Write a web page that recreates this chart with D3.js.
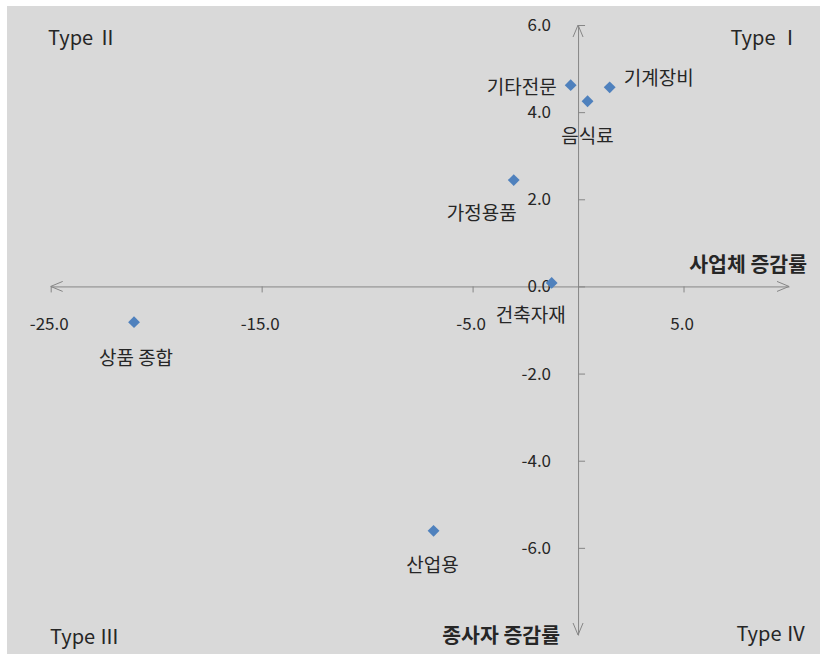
<!DOCTYPE html>
<html>
<head>
<meta charset="utf-8">
<script src="https://cdn.jsdelivr.net/npm/d3@7"></script>
<style>
  html, body { margin: 0; padding: 0; background: #fff; }
  svg { display: block; }
</style>
</head>
<body>
<div id="chart-container"></div>
<script>
// data
const names = ["기타전문", "음식료", "기계장비", "가정용품", "건축자재", "상품 종합", "산업용"];
const xVals = [-0.35, 0.45, 1.5, -3.05, -1.25, -21.05, -6.85];
const yVals = [4.62, 4.25, 4.57, 2.44, 0.08, -0.82, -5.61];
const xTicks = [-25, -15, -5, 5];
const yTicks = [6, 4, 2, 0, -2, -4, -6];
const quadrants = ["Type Ⅰ", "Type Ⅱ", "Type Ⅲ", "Type Ⅳ"];

// label placement around each marker (anchor, dx, dy)
const labelPlace = {
  "기타전문": ["end", -14, 0],
  "음식료": ["middle", 0, 33],
  "기계장비": ["start", 14, -11],
  "가정용품": ["end", 3, 31],
  "건축자재": ["middle", -21, 31],
  "상품 종합": ["middle", 2, 34],
  "산업용": ["middle", -1, 33]
};

const width = 820, height = 654;
const font = "'Noto Sans CJK KR', 'Noto Sans', sans-serif";
const axisColor = "#868686";
const textColor = "#262626";
const fmt = d => d3.format(".1f")(d).replace("−", "-");

const x = d3.scaleLinear().domain([-25, 10]).range([50.7, 789]);
const y = d3.scaleLinear().domain([-8, 6]).range([635, 25]);

const svg = d3.create("svg")
    .attr("width", width)
    .attr("height", height)
    .style("font-family", font);

// plot background
svg.append("rect")
    .attr("x", 7).attr("y", 6)
    .attr("width", width - 7).attr("height", height - 6)
    .attr("fill", "#d9d9d9");

// x axis through y = 0
const gx = svg.append("g")
    .attr("transform", `translate(0,${y(0)})`)
    .call(d3.axisBottom(x)
      .tickValues(xTicks)
      .tickSize(6)
      .tickSizeOuter(0)
      .tickFormat(fmt));

// y axis through x = 0, ticks pointing right, labels on the left
const gy = svg.append("g")
    .attr("transform", `translate(${x(0)},0)`)
    .call(d3.axisLeft(y)
      .tickValues(yTicks)
      .tickSize(-7)
      .tickSizeOuter(0)
      .tickPadding(27)
      .tickFormat(fmt));

[gx, gy].forEach(g => {
  g.select(".domain").attr("stroke", axisColor);
  g.selectAll(".tick line").attr("stroke", axisColor);
  g.selectAll(".tick text")
      .attr("fill", textColor)
      .style("font-size", "17px")
      .style("font-family", font);
});
gx.selectAll(".tick text").attr("y", 32).attr("dy", "0.71em").attr("dx", -2);

// open arrow heads at the four axis ends
const arrows = [
  [x(-25), y(0), -1, 0],
  [x(10), y(0), 1, 0],
  [x(0), y(6), 0, -1],
  [x(0), y(-8), 0, 1]
];
svg.append("g")
    .attr("fill", "none")
    .attr("stroke", axisColor)
    .attr("stroke-width", 1)
  .selectAll("path")
  .data(arrows)
  .join("path")
    .attr("d", ([px, py, ux, uy]) => {
      const len = 12, half = 5;
      const bx = px - ux * len, by = py - uy * len;
      return `M${bx + uy * half},${by + ux * half}L${px},${py}L${bx - uy * half},${by - ux * half}`;
    });

// axis titles
svg.append("text")
    .attr("x", 807).attr("y", 263)
    .attr("text-anchor", "end")
    .attr("dominant-baseline", "central")
    .attr("fill", textColor)
    .style("font-size", "20.5px")
    .style("font-weight", "bold")
    .text("사업체 증감률");

svg.append("text")
    .attr("x", 560).attr("y", 634)
    .attr("text-anchor", "end")
    .attr("dominant-baseline", "central")
    .attr("fill", textColor)
    .style("font-size", "20.5px")
    .style("font-weight", "bold")
    .text("종사자 증감률");

// quadrant names
const quadPos = [
  [800, 36, "end"],
  [48, 36, "start"],
  [50, 635, "start"],
  [806, 632, "end"]
];
svg.append("g")
    .style("font-size", "20px")
  .selectAll("text")
  .data(quadrants)
  .join("text")
    .attr("x", (d, i) => quadPos[i][0])
    .attr("y", (d, i) => quadPos[i][1])
    .attr("text-anchor", (d, i) => quadPos[i][2])
    .attr("dominant-baseline", "central")
    .attr("fill", textColor)
    .text(d => d);

// markers
const points = names.map((n, i) => ({ name: n, x: xVals[i], y: yVals[i] }));

svg.append("g")
  .selectAll("path")
  .data(points)
  .join("path")
    .attr("d", d3.symbol(d3.symbolSquare, 70))
    .attr("transform", d => `translate(${x(d.x)},${y(d.y)}) rotate(45)`)
    .attr("fill", "#4f81bd");

svg.append("g")
    .style("font-size", "19px")
  .selectAll("text")
  .data(points)
  .join("text")
    .attr("x", d => x(d.x) + labelPlace[d.name][1])
    .attr("y", d => y(d.y) + labelPlace[d.name][2])
    .attr("text-anchor", d => labelPlace[d.name][0])
    .attr("dominant-baseline", "central")
    .attr("fill", textColor)
    .text(d => d.name);

document.getElementById("chart-container").appendChild(svg.node());
</script>
</body>
</html>
